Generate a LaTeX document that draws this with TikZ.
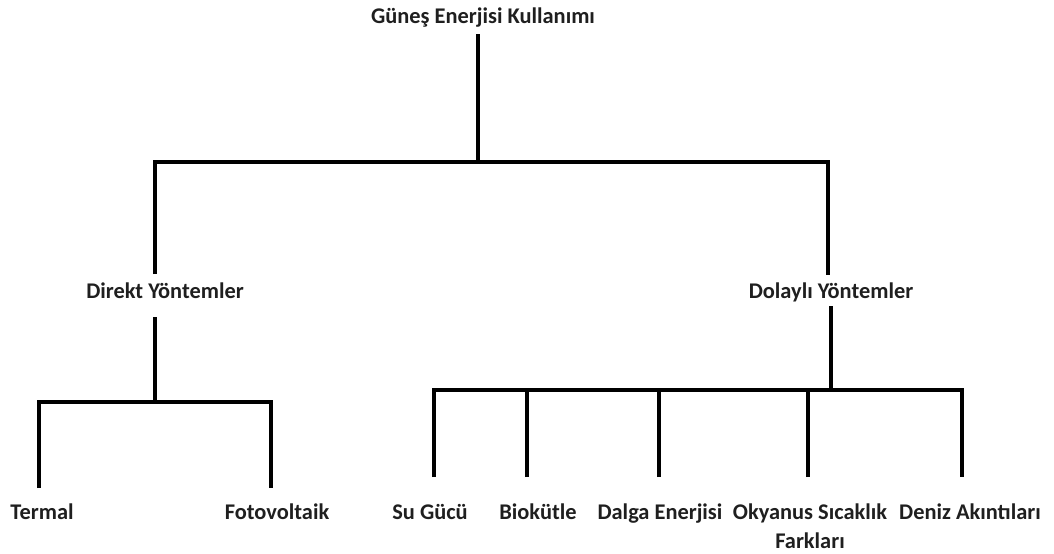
\documentclass[tikz,border=0pt]{standalone}
\usepackage{fontspec}
\setmainfont{Carlito}
\begin{document}
\begin{tikzpicture}[x=0.5pt,y=-0.5pt,
  lbl/.style={inner sep=0pt,anchor=base,font=\bfseries\fontsize{11.2}{14.5}\selectfont,align=center,text=black!88},
  edge/.style={line width=2pt,line join=miter,line cap=butt}]
\useasboundingbox[fill=white] (0,0) rectangle (1054,553);

% labels
\node[lbl] (root)    at (483,23)  {Güneş Enerjisi Kullanımı};
\node[lbl] (direkt)  at (165,298) {Direkt Yöntemler};
\node[lbl] (dolayli) at (831,298) {Dolaylı Yöntemler};
\node[lbl] (termal)  at (42,519)  {Termal};
\node[lbl] (foto)    at (277,519) {Fotovoltaik};
\node[lbl] (su)      at (430,519) {Su Gücü};
\node[lbl] (bio)     at (538,519) {Biokütle};
\node[lbl] (dalga)   at (660,519) {Dalga Enerjisi};
\node[lbl] (okyanus) at (810,548) {Okyanus Sıcaklık\\Farkları};
\node[lbl] (deniz)   at (970,519) {Deniz Akıntıları};

% junctions and line ends
\coordinate (r0) at (478,34);
\coordinate (j0) at (478,162);
\coordinate (a1) at (155,274);
\coordinate (a2) at (828,275);
\coordinate (d0) at (155,317);
\coordinate (jd) at (155,402);
\coordinate (t1) at (39,488);
\coordinate (t2) at (271,488);
\coordinate (y0) at (831,306);
\coordinate (jy) at (831,390);
\coordinate (u1) at (434,477);
\coordinate (u2) at (527,477);
\coordinate (u3) at (659,477);
\coordinate (u4) at (808,477);
\coordinate (u5) at (962,477);

% top level
\draw[edge] (r0) -- (j0);
\draw[edge] (a1) |- (j0) -| (a2);

% direct methods
\draw[edge] (d0) -- (jd);
\draw[edge] (t1) |- (jd) -| (t2);

% indirect methods
\draw[edge] (y0) -- (jy);
\draw[edge] (u1) |- (jy) -| (u5);
\draw[edge] (u2) -- (u2 |- jy);
\draw[edge] (u3) -- (u3 |- jy);
\draw[edge] (u4) -- (u4 |- jy);
\end{tikzpicture}
\end{document}
